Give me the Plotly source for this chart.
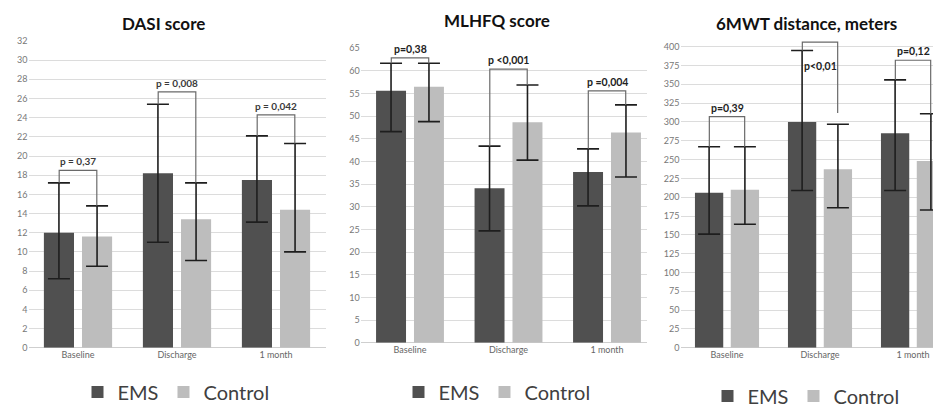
import plotly.graph_objects as go

categories = ["Baseline", "Discharge", "1 month"]

# DASI score
dasi_ems = [12.0, 18.2, 17.5]
dasi_ems_hi = [17.2, 25.4, 22.1]
dasi_ems_lo = [7.2, 11.0, 13.1]
dasi_ctl = [11.6, 13.4, 14.4]
dasi_ctl_hi = [14.8, 17.2, 21.3]
dasi_ctl_lo = [8.5, 9.1, 10.0]
dasi_p = ["p = 0,37", "p = 0,008", "p = 0,042"]
dasi_bracket = [18.5, 26.7, 24.3]

# MLHFQ score
mlhfq_ems = [55.6, 34.1, 37.7]
mlhfq_ems_hi = [61.7, 43.4, 42.8]
mlhfq_ems_lo = [46.6, 24.7, 30.2]
mlhfq_ctl = [56.5, 48.7, 46.4]
mlhfq_ctl_hi = [61.7, 56.9, 52.5]
mlhfq_ctl_lo = [48.8, 40.3, 36.6]
mlhfq_p = ["p=0,38", "p <0,001", "p =0,004"]
mlhfq_bracket = [62.9, 60.4, 55.6]

# 6MWT distance
mwt_ems = [206, 300, 285]
mwt_ems_hi = [267, 395, 356]
mwt_ems_lo = [151, 209, 209]
mwt_ctl = [210, 237, 248]
mwt_ctl_hi = [267, 297, 311]
mwt_ctl_lo = [164, 186, 183]
mwt_p = ["p=0,39", "p<0,01", "p=0,12"]
mwt_bracket = [307, 406, 382]
mwt_right_leg = [267, 312, 311]

EMS_COLOR = "#505050"
CTL_COLOR = "#bdbdbd"
FONT = "Lato, Roboto, sans-serif"
# the page body adds an 8px offset; the figure is sized to the visible area
PAGE_OFF = 8
W, H = 941 - PAGE_OFF, 410 - PAGE_OFF


def fx(px):
    return (px - PAGE_OFF) / W


def fy(py):
    return 1 - (py - PAGE_OFF) / H


panels = [
    dict(title="DASI score", ems=dasi_ems, ems_hi=dasi_ems_hi, ems_lo=dasi_ems_lo,
         ctl=dasi_ctl, ctl_hi=dasi_ctl_hi, ctl_lo=dasi_ctl_lo, p=dasi_p, psize=10,
         pcolor="#3a3a3a", br=dasi_bracket, rleg=dasi_ctl_hi, below=[False, False, False],
         xdom=(28.5, 325.5), xr=[-0.5, 2.5], ydom=(347.7, 41), yr=[0, 32], dtick=2,
         title_x=163, title_top=11, leg_x=176, leg_y=392),
    dict(title="MLHFQ score", ems=mlhfq_ems, ems_hi=mlhfq_ems_hi, ems_lo=mlhfq_ems_lo,
         ctl=mlhfq_ctl, ctl_hi=mlhfq_ctl_hi, ctl_lo=mlhfq_ctl_lo, p=mlhfq_p, psize=10.5,
         pcolor="#222222", br=mlhfq_bracket, rleg=mlhfq_ctl_hi, below=[False, False, False],
         xdom=(360.75, 647), xr=[-0.5, 2.406], ydom=(342.7, 48.3), yr=[0, 65], dtick=5,
         title_x=497, title_top=8, leg_x=497, leg_y=392),
    dict(title="6MWT distance, meters", ems=mwt_ems, ems_hi=mwt_ems_hi, ems_lo=mwt_ems_lo,
         ctl=mwt_ctl, ctl_hi=mwt_ctl_hi, ctl_lo=mwt_ctl_lo, p=mwt_p, psize=10.5,
         pcolor="#222222", br=mwt_bracket, rleg=mwt_right_leg, below=[False, True, False],
         xdom=(680.5, 941), xr=[-0.5, 2.301], ydom=(347.7, 40.7), yr=[0, 408], dtick=25,
         title_x=806, title_top=11, leg_x=806, leg_y=396),
]

fig = go.Figure()
OFF = 0.19
shapes = []
annotations = []
for i, pn in enumerate(panels):
    n = "" if i == 0 else str(i + 1)
    xa, ya = "x" + n, "y" + n
    leg = "legend" + n
    for name, vals, hi, lo, col in [("EMS", pn["ems"], pn["ems_hi"], pn["ems_lo"], EMS_COLOR),
                                    ("Control", pn["ctl"], pn["ctl_hi"], pn["ctl_lo"], CTL_COLOR)]:
        fig.add_trace(go.Bar(
            x=categories, y=vals, name=name, marker_color=col, marker_line_width=0,
            xaxis=xa, yaxis=ya, legend=leg,
            error_y=dict(type="data", symmetric=False,
                         array=[h - v for h, v in zip(hi, vals)],
                         arrayminus=[v - l for v, l in zip(vals, lo)],
                         color="#1e1e1e", thickness=1.6, width=11),
        ))
    fig.layout["xaxis" + n] = dict(
        domain=[fx(pn["xdom"][0]), min(1.0, fx(pn["xdom"][1]))], range=pn["xr"], anchor=ya,
        type="category", showgrid=False, showline=False, ticks="", automargin=False,
        tickfont=dict(family=FONT, size=9, color="#666666"), fixedrange=True)
    fig.layout["yaxis" + n] = dict(
        domain=[fy(pn["ydom"][0]), fy(pn["ydom"][1])], range=pn["yr"], anchor=xa,
        dtick=pn["dtick"], tick0=0, showgrid=True, gridcolor="#dcdcdc", gridwidth=1,
        zeroline=True, zerolinecolor="#cfcfcf", showline=False, ticks="", automargin=False,
        tickfont=dict(family=FONT, size=9, color="#777777"), fixedrange=True)
    fig.layout[leg] = dict(
        orientation="h", x=fx(pn["leg_x"]), y=fy(pn["leg_y"]), xanchor="center",
        yanchor="middle", xref="paper", yref="paper",
        font=dict(family=FONT, size=20, color="#404040"), bgcolor="rgba(0,0,0,0)",
        itemwidth=30, tracegroupgap=0)
    annotations.append(dict(
        text="<b>" + pn["title"] + "</b>", x=fx(pn["title_x"]), y=fy(pn["title_top"]),
        xref="paper", yref="paper", showarrow=False, xanchor="center", yanchor="top",
        font=dict(family=FONT, size=17, color="#111111")))
    for k in range(3):
        xl, xr_ = k - OFF, k + OFF
        yb = pn["br"][k]
        path = (f"M {xl},{pn['ems_hi'][k]} L {xl},{yb} L {xr_},{yb} L {xr_},{pn['rleg'][k]}")
        shapes.append(dict(type="path", path=path, xref=xa, yref=ya,
                           line=dict(color="#6a6a6a", width=1.2)))
        pfont = dict(family=FONT, size=pn["psize"], color=pn["pcolor"])
        if pn["below"][k]:
            annotations.append(dict(text="<b>" + pn["p"][k] + "</b>", x=k, y=yb, xref=xa,
                                    yref=ya, showarrow=False, yanchor="top", yshift=-16,
                                    font=pfont))
        else:
            annotations.append(dict(text="<b>" + pn["p"][k] + "</b>", x=k, y=yb, xref=xa,
                                    yref=ya, showarrow=False, yanchor="bottom", yshift=1,
                                    font=pfont))

fig.update_layout(
    template="none",
    width=W, height=H, margin=dict(l=0, r=0, t=0, b=0, autoexpand=False),
    plot_bgcolor="white", paper_bgcolor="white",
    barmode="group", bargap=0.23, bargroupgap=0.21,
    shapes=shapes, annotations=annotations, showlegend=True,
)
fig.write_html("out.html")
